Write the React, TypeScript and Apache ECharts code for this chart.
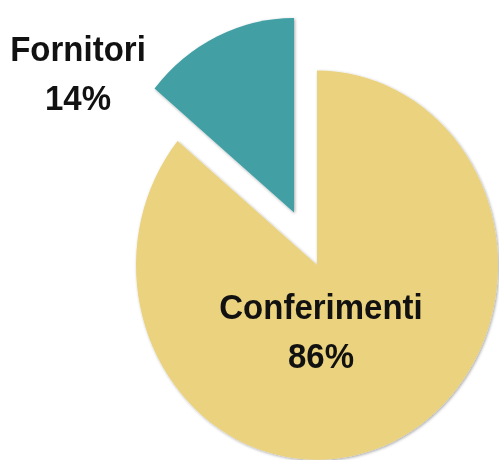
import React, { useEffect, useRef } from "react";
import * as echarts from "echarts";

const categories = ["Conferimenti", "Fornitori"];
const values = [86, 14];
const colors = ["#EAD27E", "#42A0A5"];

const W = 499;
const H = 460;
const SY = 1.075;
const HU = H / SY;

export default function App() {
  const ref = useRef<HTMLDivElement>(null);
  useEffect(() => {
    if (!ref.current) return;
    const chart = echarts.init(ref.current, undefined, { renderer: "svg" });
    const total = values.reduce((a, b) => a + b, 0);
    const pct = values.map((v) => Math.round((v / total) * 100));
    const labelPos: [number, number][] = [
      [321, 308],
      [78, 68],
    ];
    chart.setOption({
      animation: false,
      series: [
        {
          type: "pie",
          center: [317, 246.6],
          radius: 181,
          startAngle: 90,
          clockwise: true,
          selectedMode: "single",
          selectedOffset: 54,
          label: { show: false },
          labelLine: { show: false },
          emphasis: { disabled: true },
          itemStyle: {
            shadowBlur: 3,
            shadowColor: "rgba(0,0,0,0.35)",
            shadowOffsetX: 1,
            shadowOffsetY: 1,
          },
          data: categories.map((c, i) => ({
            name: c,
            value: values[i],
            selected: i === 1,
            itemStyle: { color: colors[i] },
          })),
        },
      ],
      graphic: categories.map((c, i) => ({
        type: "text",
        x: labelPos[i][0],
        y: labelPos[i][1],
        z: 100,
        style: {
          text: `${c}\n${pct[i]}%`,
          fontSize: 33,
          fontWeight: "bold",
          lineHeight: 46,
          fontFamily: "Liberation Sans",
          fill: "#111",
          textAlign: "center",
          textVerticalAlign: "middle",
        },
      })),
    });
    return () => chart.dispose();
  }, []);
  return (
    <div
      style={{
        position: "fixed",
        left: 0,
        top: 0,
        width: W,
        height: H,
        overflow: "hidden",
        background: "#fff",
      }}
    >
      <div
        ref={ref}
        style={{
          width: W,
          height: HU,
          transform: `scaleY(${SY})`,
          transformOrigin: "0 0",
        }}
      />
    </div>
  );
}
